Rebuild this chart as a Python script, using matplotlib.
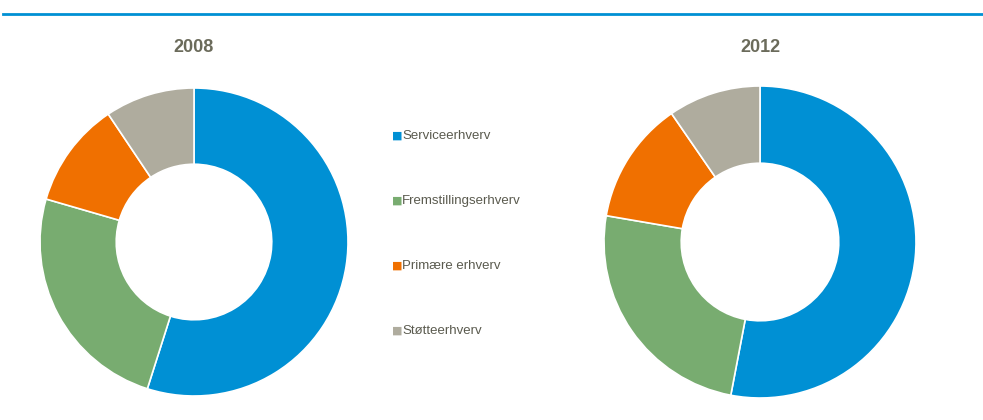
import matplotlib
matplotlib.use("Agg")
import matplotlib.pyplot as plt
from matplotlib.lines import Line2D

plt.rcParams['font.family'] = ['Liberation Sans', 'DejaVu Sans']

# andele i procent
kategorier = ["Serviceerhverv", "Fremstillingserhverv", "Primære erhverv", "Støtteerhverv"]
andel_2008 = [54.9, 24.6, 11.1, 9.4]
andel_2012 = [53.0, 24.7, 12.7, 9.6]
farver = ["#0090d4", "#78ac70", "#f07000", "#afac9e"]

W, H = 983, 420
fig = plt.figure(figsize=(W / 100, H / 100), dpi=100)

# blå linje i toppen
fig.add_artist(Line2D([3 / W, 1], [1 - 14 / H, 1 - 14 / H], color="#0090d4", lw=2))


def donut(cx, cy, r, data, titel):
    ax = fig.add_axes([(cx - r) / W, (H - cy - r) / H, 2 * r / W, 2 * r / H])
    ax.pie(data, colors=farver, startangle=90, counterclock=False, radius=1,
           wedgeprops=dict(width=0.495, edgecolor="white", linewidth=1.2))
    ax.set_xlim(-1, 1)
    ax.set_ylim(-1, 1)
    ax.axis("off")
    fig.text(cx / W, 1 - 47 / H, titel, ha="center", va="center",
             fontsize=13, fontweight="bold", color="#6b6b5b")


donut(194, 242, 154, andel_2008, "2008")
donut(760, 242, 156, andel_2012, "2012")

# legend
for i, (navn, f) in enumerate(zip(kategorier, farver)):
    y = 1 - (136 + i * 65) / H
    fig.text(392 / W, y, "\u25a0", color=f, fontsize=8, ha="left", va="center",
             family=["DejaVu Sans"])
    fig.text(402 / W, y, navn, color="#5a5a4e", fontsize=9.5, ha="left", va="center")

fig.savefig("out.png", dpi=100)
